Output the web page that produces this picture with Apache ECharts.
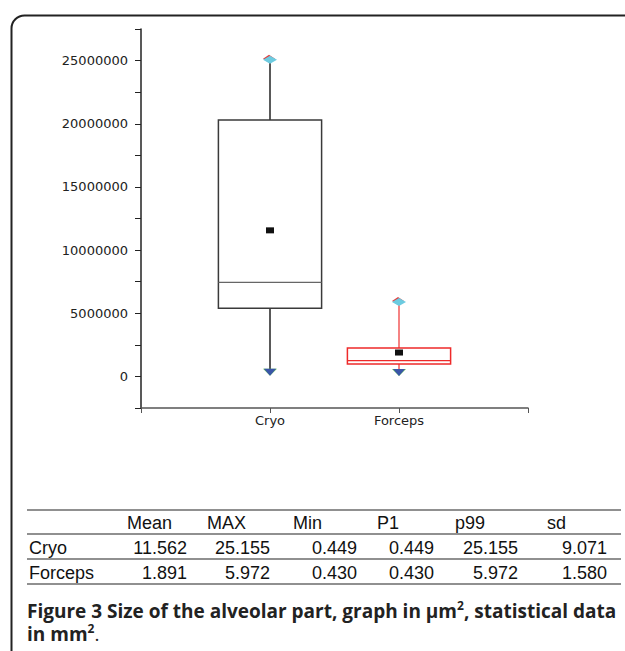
<!DOCTYPE html>
<html>
<head>
<meta charset="utf-8">
<style>
  html, body { margin: 0; padding: 0; background: #fff; }
  #chart { width: 625px; height: 651px; }
</style>
<script src="https://cdn.jsdelivr.net/npm/echarts@6/dist/echarts.min.js"></script>
</head>
<body>
<div id="chart"></div>
<script>
// 箱线图数据 (µm²)
const groups = ["Cryo", "Forceps"];
const minVals = [449000, 430000];
const q1Vals = [5400000, 980000];
const medianVals = [7450000, 1250000];
const q3Vals = [20300000, 2250000];
const maxVals = [25155000, 5972000];
const meanVals = [11562000, 1891000];
const yTicks = [0, 5000000, 10000000, 15000000, 20000000, 25000000];

// 表格数据 (mm²)
const tableHeader = ["Mean", "MAX", "Min", "P1", "p99", "sd"];
const tableRows = ["Cryo", "Forceps"];
const cryoStats = ["11.562", "25.155", "0.449", "0.449", "25.155", "9.071"];
const forcepsStats = ["1.891", "5.972", "0.430", "0.430", "5.972", "1.580"];

const boxStyles = [
  { box: "#3a3a3a", median: "#666", whisker: "#222" },
  { box: "#ee2a2a", median: "#ee2a2a", whisker: "#f25a5a" }
];

const tableFont = "18px 'Liberation Sans', Arial, sans-serif";
const headerX = [127, 207, 293, 377, 455, 547];
const numRight = [187, 270, 357, 434, 518, 607];
const rowY = [548, 573];
const tableLines = [510, 534, 559, 584];

const graphics = [];
// 外框
graphics.push({
  type: "rect", left: 9, top: 13, silent: true,
  shape: { x: 0, y: 0, width: 700, height: 700, r: 13 },
  style: { fill: "none", stroke: "#222", lineWidth: 2 }
});
tableLines.forEach(y => graphics.push({
  type: "line",
  shape: { x1: 27, y1: y, x2: 621, y2: y },
  style: { stroke: "#222", lineWidth: 1.2 }
}));
tableHeader.forEach((h, i) => graphics.push({
  type: "text",
  style: { text: h, x: headerX[i], y: 523, font: tableFont, fill: "#111", align: "left", verticalAlign: "middle" }
}));
[cryoStats, forcepsStats].forEach((row, r) => {
  graphics.push({
    type: "text",
    style: { text: tableRows[r], x: 29, y: rowY[r], font: tableFont, fill: "#111", align: "left", verticalAlign: "middle" }
  });
  row.forEach((v, i) => graphics.push({
    type: "text",
    style: { text: v, x: numRight[i], y: rowY[r], font: tableFont, fill: "#111", align: "right", verticalAlign: "middle" }
  }));
});
// 图注
graphics.push({
  type: "text",
  style: {
    x: 27, y: 599,
    text: "{b|Figure 3 Size of the alveolar part, graph in μm}{s|2}{b|, statistical data}\n{b|in mm}{s|2}{n|.}",
    rich: {
      b: { fontFamily: "Open Sans", fontWeight: "bold", fontSize: 19, lineHeight: 23, fill: "#222" },
      s: { fontFamily: "Open Sans", fontWeight: "bold", fontSize: 12, lineHeight: 13, verticalAlign: "top", fill: "#222" },
      n: { fontFamily: "Open Sans", fontSize: 19, lineHeight: 23, fill: "#222" }
    }
  }
});

const chart = echarts.init(document.getElementById("chart"), null, { renderer: "svg" });
chart.setOption({
  animation: false,
  backgroundColor: "#fff",
  grid: { left: 141, right: 97, top: 29, bottom: 243 },
  xAxis: {
    type: "value", min: 0, max: 3, interval: 1,
    axisLine: { show: true, onZero: false, lineStyle: { color: "#555", width: 1.5 } },
    axisTick: { show: true, length: 5, lineStyle: { color: "#555" } },
    axisLabel: {
      formatter: v => groups[v - 1] || "",
      color: "#222", fontFamily: "DejaVu Sans", fontSize: 13, margin: 6
    },
    splitLine: { show: false }
  },
  yAxis: {
    type: "value", min: -2500000, max: 27500000, interval: 2500000,
    axisLine: { show: true, lineStyle: { color: "#222", width: 1.5 } },
    axisTick: { show: true, length: 6, lineStyle: { color: "#222" } },
    axisLabel: {
      formatter: v => (yTicks.includes(v) ? String(v) : ""),
      color: "#222", fontFamily: "DejaVu Sans", fontSize: 13, margin: 13
    },
    splitLine: { show: false }
  },
  graphic: graphics,
  series: [{
    type: "custom",
    data: groups.map((g, i) => [i + 1, minVals[i], q1Vals[i], medianVals[i], q3Vals[i], maxVals[i], meanVals[i]]),
    encode: { x: 0, y: [1, 2, 3, 4, 5, 6] },
    renderItem: (params, api) => {
      const s = boxStyles[params.dataIndex];
      const cx = api.value(0);
      const pt = k => api.coord([cx, api.value(k)]);
      const x = pt(1)[0];
      const yMin = pt(1)[1], yQ1 = pt(2)[1], yMed = pt(3)[1], yQ3 = pt(4)[1], yMax = pt(5)[1], yMean = pt(6)[1];
      const w = api.size([0.8, 0])[0];
      return {
        type: "group",
        children: [
          { type: "line", shape: { x1: x, y1: yQ3, x2: x, y2: yMax }, style: { stroke: s.whisker, lineWidth: 1.5 } },
          { type: "line", shape: { x1: x, y1: yQ1, x2: x, y2: yMin }, style: { stroke: s.whisker, lineWidth: 1.5 } },
          { type: "rect", shape: { x: x - w / 2, y: yQ3, width: w, height: yQ1 - yQ3 }, style: { fill: "none", stroke: s.box, lineWidth: 1.5 } },
          { type: "line", shape: { x1: x - w / 2, y1: yMed, x2: x + w / 2, y2: yMed }, style: { stroke: s.median, lineWidth: 1.2 } },
          { type: "rect", shape: { x: x - 4, y: yMean - 3, width: 8, height: 6 }, style: { fill: "#111" } },
          { type: "polygon", shape: { points: [[x - 7, yMax], [x - 1, yMax - 4], [x + 5, yMax], [x - 1, yMax + 4]] }, style: { fill: "#e04040" } },
          { type: "polygon", shape: { points: [[x - 7, yMax + 1], [x, yMax - 3], [x + 7, yMax + 1], [x, yMax + 5]] }, style: { fill: "#6ccbe0" } },
          { type: "polygon", shape: { points: [[x - 7, yMin - 2], [x + 7, yMin - 2], [x, yMin + 5]] }, style: { fill: "#5cb85c" } },
          { type: "polygon", shape: { points: [[x - 6, yMin - 2], [x + 6, yMin - 2], [x, yMin + 5]] }, style: { fill: "#3a55a8" } }
        ]
      };
    }
  }]
});
</script>
</body>
</html>
